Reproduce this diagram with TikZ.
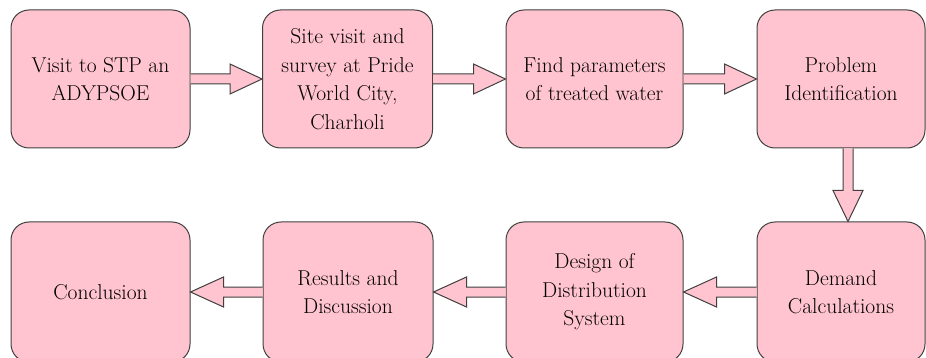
\documentclass[tikz,border=0pt]{standalone}
\usetikzlibrary{calc}
\definecolor{boxpink}{HTML}{FFC4CF}
\definecolor{edgegray}{HTML}{404040}
\tikzset{
  box/.style={draw=edgegray, line width=1pt, fill=boxpink, rounded corners=18pt,
    minimum height=138pt, inner sep=0pt, align=center,
    font=\fontsize{21.5}{28.5}\selectfont, text=black},
  fat/.style={draw=edgegray, line width=1pt, fill=boxpink, line join=miter}
}
\begin{document}
\begin{tikzpicture}[x=1pt,y=-1pt]
\useasboundingbox (0,0) rectangle (926,358);
\node[box, minimum width=179pt] (b1) at (100.5,79) {Visit to STP an\\ADYPSOE};
\node[box, minimum width=170pt] (b2) at (347.5,79) {Site visit and\\survey at Pride\\World City,\\Charholi};
\node[box, minimum width=177pt] (b3) at (594.5,79) {Find parameters\\of treated water};
\node[box, minimum width=168pt] (b4) at (841,79) {Problem\\Identification};
\node[box, minimum width=179pt, minimum height=140pt] (c1) at (100.5,292) {Conclusion};
\node[box, minimum width=170pt, minimum height=140pt] (c2) at (348,292) {Results and\\Discussion};
\node[box, minimum width=177pt, minimum height=140pt] (c3) at (594.5,292) {Design of\\Distribution\\System};
\node[box, minimum width=168pt, minimum height=140pt] (c4) at (841,292) {Demand\\Calculations};
% right-pointing arrows
\foreach \a/\b in {b1/b2, b2/b3, b3/b4}{
  \draw[fat] ($(\a.east)+(0,-5)$) -- ($(\b.west)+(-32,-5)$) -- ($(\b.west)+(-32,-15)$)
    -- (\b.west) -- ($(\b.west)+(-32,15)$) -- ($(\b.west)+(-32,5)$) -- ($(\a.east)+(0,5)$);
}
% down arrow
\coordinate (ds) at ($(b4.south)+(7,0)$);
\coordinate (dt) at ($(c4.north)+(7,0)$);
\draw[fat] ($(ds)+(-5,0)$) -- ($(dt)+(-5,-31)$) -- ($(dt)+(-15,-31)$) -- (dt)
  -- ($(dt)+(15,-31)$) -- ($(dt)+(5,-31)$) -- ($(ds)+(5,0)$);
% left-pointing arrows
\foreach \a/\b in {c1/c2, c2/c3, c3/c4}{
  \draw[fat] ($(\b.west)+(0,-5)$) -- ($(\a.east)+(33,-5)$) -- ($(\a.east)+(33,-15)$)
    -- (\a.east) -- ($(\a.east)+(33,15)$) -- ($(\a.east)+(33,5)$) -- ($(\b.west)+(0,5)$);
}
\end{tikzpicture}
\end{document}
